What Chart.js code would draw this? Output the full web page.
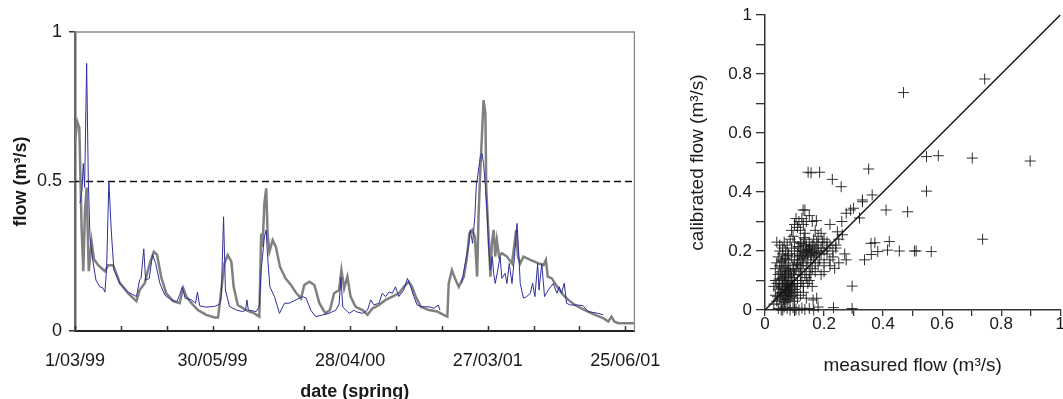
<!DOCTYPE html>
<html>
<head>
<meta charset="utf-8">
<script src="https://cdn.jsdelivr.net/npm/chart.js@4.4.1/dist/chart.umd.min.js"></script>
<style>
  html, body { margin: 0; padding: 0; background: #fff; }
  body { width: 1063px; height: 399px; position: relative; overflow: hidden; }
  #flowChart { position: absolute; left: 0; top: 0; }
  #scatterChart { position: absolute; left: 680px; top: 0; }
</style>
</head>
<body>
<canvas id="flowChart" width="680" height="399"></canvas>
<canvas id="scatterChart" width="383" height="399"></canvas>
<script>
// time axis: 10 units per tick, labelled every third tick
const dateTicks = ['1/03/99', '', '', '30/05/99', '', '', '28/04/00', '', '', '27/03/01', '', '', '25/06/01'];

// simulated flow (grey)
const simTime = [0, 0.5, 0.94, 1.45, 1.81, 2.17, 2.54, 3.0, 3.62, 4.13, 5.07, 6.52, 7.25, 8.33, 9.78, 11.6, 13.4, 14.1, 15.2, 16.3,
  17.2, 17.9, 18.8, 19.9, 21.4, 22.8, 23.6, 24.3, 25.4, 26.8, 28.6, 30.4, 31.2, 31.9, 32.6, 33.3, 34.1, 34.6, 35.5, 37.3,
  39.1, 40.2, 40.6, 40.9, 41.3, 41.7, 42.0, 42.4, 43.1, 43.8, 44.7, 45.9, 47.1, 48.3, 49.3, 50.0, 51.1, 52.2, 53.3, 54.6,
  55.6, 56.5, 57.6, 58.1, 58.7, 59.4, 60.1, 60.9, 61.2, 62.7, 63.8, 64.85, 66.3, 67.75, 69.2, 70.65, 71.7, 72.8, 73.5, 74.3,
  75.4, 77.2, 79.0, 80.4, 81.2, 81.5, 82.2, 83.0, 83.7, 84.8, 85.5, 86.0, 86.6, 87.2, 87.7, 88.0, 88.4, 88.8, 89.1, 89.5,
  89.7, 90.2, 90.6, 90.9, 91.3, 91.65, 92.0, 92.5, 93.1, 94.2, 95.3, 95.85, 96.2, 96.6, 97.1, 97.8, 99.3, 101.1, 102.2, 102.7,
  103.1, 104.0, 104.7, 105.4, 106.5, 107.6, 109.0, 111.2, 113.4, 115.2, 116.3, 117.0, 117.6, 118.5, 122];
const simFlow = [0.63, 0.70, 0.68, 0.34, 0.20, 0.40, 0.48, 0.20, 0.30, 0.24, 0.22, 0.20, 0.22, 0.22, 0.16, 0.126, 0.10, 0.137, 0.16, 0.226,
  0.265, 0.255, 0.18, 0.126, 0.10, 0.093, 0.143, 0.115, 0.093, 0.07, 0.054, 0.045, 0.045, 0.137, 0.226, 0.254, 0.232, 0.148, 0.087, 0.07,
  0.059, 0.048, 0.326, 0.282, 0.427, 0.477, 0.326, 0.265, 0.304, 0.282, 0.215, 0.176, 0.154, 0.126, 0.109, 0.154, 0.165, 0.154, 0.093, 0.059,
  0.070, 0.126, 0.137, 0.204, 0.143, 0.182, 0.115, 0.09, 0.081, 0.07, 0.054, 0.075, 0.087, 0.104, 0.115, 0.126, 0.148, 0.165, 0.148, 0.115,
  0.081, 0.07, 0.065, 0.054, 0.048, 0.159, 0.204, 0.171, 0.148, 0.182, 0.249, 0.326, 0.338, 0.315, 0.182, 0.382, 0.538, 0.672, 0.772, 0.728,
  0.472, 0.315, 0.182, 0.293, 0.338, 0.249, 0.304, 0.249, 0.26, 0.249, 0.226, 0.293, 0.338, 0.249, 0.226, 0.249, 0.238, 0.226, 0.22, 0.238,
  0.182, 0.176, 0.159, 0.143, 0.12, 0.104, 0.087, 0.07, 0.054, 0.043, 0.032, 0.048, 0.032, 0.026, 0.026];

// measured flow (blue), null = missing record
const obsTime = [1.09, 1.52, 1.81, 2.1, 2.54, 2.9, 3.26, 3.84, 4.57, 5.43, 6.16, 6.52, 6.88, 7.39, 7.9, 8.48, 9.78, 11.6, 13.4, 14.1,
  14.4, 15.0, 15.4, 16.2, 16.9, 17.6, 18.5, 19.6, 21.0, 22.2, 22.8, 23.4, 24.0, 25.4, 26.3, 26.7, 27.2, 28.6, 30.4, 31.6,
  31.9, 32.4, 32.8, 33.7, 35.2, 36.6, 37.2, 37.5, 37.8, 39.5, 40.2, 40.6, 40.9, 41.3, 41.7, 42.0, 42.5, 43.5, 44.6, 45.7,
  46.7, 48.2, 49.6, 50.4, 51.4, 52.5, 54.0, 55.4, 56.9, 57.6, 58.0, 58.4, 59.8, 60.9, 61.2, 62.7, 63.8, 64.5, 65.2, 66.3,
  67.0, 67.75, 68.5, 69.2, 69.9, 70.6, 71.7, 72.5, 73.2, 73.9, 74.6, 75.7, 77.2, 78.3, 79.2, 79.6, 80.0, 84.3, 85.1, 85.9,
  86.2, 86.7, 87.2, 87.5, 88.0, 88.4, 88.75, 89.1, 89.5, 89.85, 90.2, 90.6, 91.0, 91.3, 91.65, 92.2, 92.7, 93.1, 93.8, 94.2,
  94.7, 95.3, 95.85, 96.4, 96.7, 97.1, 97.8, 98.5, 99.3, 99.8, 100.3, 100.9, 101.2, 101.8, 102.4, 103.2, 104.3, 105.1, 105.6, 106.1,
  106.7, 107.2, 108.0, 109.4, 110.8, 111.9, 114.1, 115.2];
const obsFlow = [0.427, 0.47, 0.56, 0.48, 0.895, 0.505, 0.315, 0.24, 0.17, 0.148, 0.143, 0.13, 0.204, 0.50, 0.338, 0.204, 0.16, 0.13, 0.115, 0.171,
  0.176, 0.275, 0.17, 0.176, 0.255, 0.226, 0.16, 0.12, 0.104, 0.098, 0.12, 0.148, 0.11, 0.104, 0.093, 0.13, 0.084, 0.080, 0.082, 0.09,
  0.115, 0.382, 0.137, 0.082, 0.070, 0.065, 0.07, 0.104, 0.07, 0.065, 0.082, 0.204, 0.249, 0.315, 0.338, 0.249, 0.148, 0.115, 0.059, 0.093,
  0.093, 0.104, 0.115, 0.11, 0.07, 0.048, 0.054, 0.059, 0.07, 0.09, 0.18, 0.08, 0.059, 0.07, 0.065, 0.059, 0.07, 0.104, 0.087, 0.093,
  0.126, 0.115, 0.131, 0.126, 0.148, 0.115, 0.137, 0.176, 0.148, 0.115, 0.087, 0.081, 0.081, 0.076, 0.087, 0.07, null, 0.16, 0.226, 0.293,
  0.338, 0.293, 0.382, 0.483, 0.538, 0.583, 0.594, 0.56, 0.483, 0.405, 0.282, 0.204, 0.249, 0.193, 0.159, 0.204, 0.249, 0.176, 0.193, 0.159,
  0.226, 0.159, 0.249, 0.36, 0.282, 0.159, 0.11, 0.115, 0.126, 0.16, 0.115, 0.226, 0.137, 0.226, 0.115, 0.137, 0.159, 0.126, 0.148, 0.126,
  0.16, 0.093, 0.087, 0.087, 0.085, 0.065, 0.059, 0.054];

const thresholdFlow = 0.5;

// scatter: measured vs calibrated flow
const measuredFlow = [0.469, 0.744, 0.146, 0.156, 0.185, 0.228, 0.258, 0.351, 0.363, 0.33, 0.547, 0.587, 0.702, 0.898, 0.547, 0.41, 0.483, 0.737, 0.359, 0.372,
  0.421, 0.382, 0.415, 0.455, 0.506, 0.512, 0.563, 0.337, 0.36, 0.295, 0.232, 0.295, 0.275, 0.236, 0.163, 0.135, 0.174, 0.22, 0.275, 0.29,
  0.32, 0.33, 0.3, 0.26, 0.245, 0.262, 0.24, 0.25, 0.27, 0.23, 0.21, 0.129,
  0.03, 0.035, 0.04, 0.045, 0.05, 0.05, 0.055, 0.055, 0.06, 0.06, 0.06, 0.065, 0.065, 0.065, 0.07, 0.07, 0.07, 0.07, 0.075, 0.075,
  0.075, 0.08, 0.08, 0.08, 0.08, 0.085, 0.085, 0.085, 0.09, 0.09, 0.09, 0.095, 0.095, 0.1, 0.1, 0.1, 0.105, 0.11, 0.11, 0.115,
  0.12, 0.04, 0.045, 0.05, 0.055, 0.035, 0.03,
  0.04, 0.045, 0.05, 0.05, 0.055, 0.06, 0.06, 0.065, 0.065, 0.07, 0.07, 0.075, 0.075, 0.08, 0.08, 0.085, 0.085, 0.09, 0.09, 0.095,
  0.095, 0.1, 0.1, 0.1, 0.035, 0.04,
  0.105, 0.11, 0.11, 0.115, 0.115, 0.12, 0.12, 0.12, 0.12, 0.125, 0.125, 0.13, 0.13, 0.13, 0.135, 0.135, 0.135, 0.14, 0.14, 0.14,
  0.145, 0.145, 0.15, 0.15, 0.15, 0.155, 0.155, 0.16, 0.16, 0.16, 0.165, 0.165, 0.17, 0.17, 0.175, 0.175, 0.18, 0.18, 0.185, 0.19,
  0.19, 0.195, 0.2, 0.2, 0.21, 0.22, 0.125, 0.13, 0.14, 0.145, 0.15, 0.155, 0.16, 0.17, 0.18, 0.13, 0.12, 0.11, 0.14, 0.1, 0.175,
  0.045, 0.055, 0.065, 0.075, 0.085, 0.095, 0.105, 0.115, 0.125, 0.135, 0.15, 0.165, 0.18, 0.06, 0.1,
  0.09, 0.1, 0.105, 0.11, 0.115, 0.12, 0.125, 0.13, 0.135, 0.14, 0.15, 0.16, 0.17, 0.18, 0.19, 0.2,
  0.21, 0.22, 0.23, 0.24, 0.25, 0.2, 0.22, 0.19,
  0.042, 0.048, 0.052, 0.058, 0.062, 0.068, 0.072, 0.078, 0.082, 0.088, 0.058, 0.066, 0.074, 0.083, 0.092, 0.052, 0.061, 0.071, 0.079, 0.087,
  0.047, 0.057, 0.067, 0.077, 0.097, 0.068, 0.078, 0.088, 0.108, 0.118, 0.128, 0.138, 0.148, 0.158, 0.168, 0.112, 0.122, 0.132, 0.142, 0.152];
const calibratedFlow = [0.737, 0.783, 0.467, 0.465, 0.467, 0.443, 0.418, 0.478, 0.39, 0.373, 0.52, 0.523, 0.515, 0.505, 0.403, 0.339, 0.333, 0.24, 0.226, 0.228,
  0.232, 0.198, 0.203, 0.2, 0.2, 0.2, 0.198, 0.17, 0.188, 0.081, 0.008, 0.005, 0.17, 0.141, 0.034, 0.339, 0.303, 0.29, 0.328, 0.339,
  0.312, 0.367, 0.345, 0.3, 0.265, 0.255, 0.22, 0.16, 0.19, 0.2, 0.23, 0.339,
  0.02, 0.05, 0.03, 0.07, 0.04, 0.09, 0.06, 0.02, 0.05, 0.08, 0.11, 0.03, 0.07, 0.1, 0.05, 0.06, 0.09, 0.12, 0.04, 0.07,
  0.08, 0.05, 0.06, 0.1, 0.13, 0.03, 0.07, 0.09, 0.06, 0.08, 0.11, 0.05, 0.1, 0.07, 0.09, 0.12, 0.06, 0.08, 0.1, 0.13,
  0.09, 0.09, 0.12, 0.15, 0.13, 0.1, 0.08,
  0.16, 0.18, 0.2, 0.22, 0.17, 0.19, 0.21, 0.15, 0.23, 0.17, 0.2, 0.14, 0.22, 0.16, 0.19, 0.24, 0.14, 0.18, 0.21, 0.15,
  0.25, 0.17, 0.2, 0.23, 0.14, 0.23,
  0.14, 0.16, 0.19, 0.21, 0.17, 0.12, 0.15, 0.2, 0.23, 0.18, 0.14, 0.16, 0.2, 0.22, 0.12, 0.18, 0.24, 0.15, 0.2, 0.22,
  0.17, 0.19, 0.13, 0.21, 0.23, 0.16, 0.19, 0.2, 0.22, 0.14, 0.18, 0.24, 0.21, 0.16, 0.19, 0.23, 0.2, 0.22, 0.17, 0.21,
  0.19, 0.23, 0.2, 0.16, 0.19, 0.17, 0.1, 0.08, 0.11, 0.09, 0.1, 0.12, 0.08, 0.13, 0.15, 0.06, 0.05, 0.04, 0.04, 0.03, 0.04,
  0.005, 0.0, 0.01, 0.005, 0.0, 0.008, 0.003, 0.0, 0.006, 0.002, 0.005, 0.0, 0.01, 0.0, 0.0,
  0.27, 0.29, 0.31, 0.28, 0.3, 0.27, 0.31, 0.29, 0.26, 0.3, 0.32, 0.3, 0.27, 0.25, 0.26, 0.24,
  0.21, 0.22, 0.18, 0.21, 0.24, 0.13, 0.15, 0.12,
  0.045, 0.075, 0.055, 0.085, 0.035, 0.065, 0.045, 0.085, 0.055, 0.075, 0.105, 0.115, 0.095, 0.065, 0.085, 0.125, 0.145, 0.135, 0.115, 0.125,
  0.105, 0.165, 0.175, 0.185, 0.135, 0.025, 0.035, 0.045, 0.155, 0.185, 0.175, 0.195, 0.205, 0.185, 0.195, 0.215, 0.225, 0.245, 0.205, 0.215];

const oneToOne = [0, 1];

Chart.defaults.font.family = 'Arial, "Liberation Sans", sans-serif';
Chart.defaults.color = '#1a1a1a';

function toPoints(xs, ys) {
    return xs.map((x, i) => ({ x: x, y: ys[i] }));
}

function fmtTick(v) {
    const r = Math.round(v * 10) / 10;
    return String(r);
}

// box border and inward x ticks for the flow plot
const flowFrame = {
    id: 'flowFrame',
    afterDraw(chart) {
        const { ctx, chartArea: a, scales: { x } } = chart;
        ctx.save();
        ctx.strokeStyle = '#8a8a8a';
        ctx.lineWidth = 1.3;
        ctx.beginPath();
        ctx.moveTo(a.left, a.top);
        ctx.lineTo(a.right, a.top);
        ctx.lineTo(a.right, a.bottom);
        ctx.stroke();
        ctx.strokeStyle = '#333';
        ctx.lineWidth = 1.5;
        x.ticks.forEach(t => {
            const px = Math.round(x.getPixelForValue(t.value)) + 0.5;
            ctx.beginPath();
            ctx.moveTo(px, a.bottom);
            ctx.lineTo(px, a.bottom - 5);
            ctx.stroke();
        });
        ctx.restore();
    }
};

new Chart(document.getElementById('flowChart'), {
    type: 'line',
    data: {
        datasets: [{
            label: 'measured',
            data: toPoints(obsTime, obsFlow),
            borderColor: '#2f2f9c',
            borderWidth: 1,
            pointRadius: 0,
            tension: 0
        }, {
            label: 'simulated',
            data: toPoints(simTime, simFlow),
            borderColor: '#808080',
            borderWidth: 2.5,
            pointRadius: 0,
            tension: 0
        }, {
            label: 'threshold',
            data: [{ x: 0, y: thresholdFlow }, { x: 122, y: thresholdFlow }],
            borderColor: '#111',
            borderWidth: 1.4,
            borderDash: [7, 4],
            pointRadius: 0
        }]
    },
    options: {
        responsive: false,
        animation: false,
        events: [],
        layout: { autoPadding: false, padding: { top: 32, right: 44, left: 0, bottom: 0 } },
        plugins: { legend: { display: false }, tooltip: { enabled: false } },
        scales: {
            x: {
                type: 'linear',
                min: 0,
                max: 122,
                afterFit: s => { s.height = 68; },
                grid: { display: false, drawTicks: false },
                border: { display: true, color: '#222', width: 2 },
                ticks: {
                    stepSize: 10,
                    includeBounds: false,
                    autoSkip: false,
                    maxRotation: 0,
                    padding: 19,
                    font: { size: 18 },
                    callback: v => dateTicks[Math.round(v / 10)] || ''
                },
                title: {
                    display: true,
                    text: 'date (spring)',
                    font: { size: 18, weight: 'bold' },
                    padding: { top: 0, bottom: -4 }
                }
            },
            y: {
                min: 0,
                max: 1,
                afterFit: s => { s.width = 75; },
                grid: { drawOnChartArea: false, drawTicks: true, tickLength: 6, color: '#333', lineWidth: 1.5 },
                border: { display: true, color: '#666', width: 2.5 },
                ticks: { stepSize: 0.5, padding: 7, font: { size: 18 }, callback: v => fmtTick(v) },
                title: {
                    display: true,
                    text: 'flow (m³/s)',
                    font: { size: 18, weight: 'bold' },
                    padding: { top: 10, bottom: 0 }
                }
            }
        }
    },
    plugins: [flowFrame]
});

new Chart(document.getElementById('scatterChart'), {
    type: 'scatter',
    data: {
        datasets: [{
            label: '1:1',
            type: 'line',
            data: toPoints(oneToOne, oneToOne),
            borderColor: '#111',
            borderWidth: 1.4,
            pointRadius: 0
        }, {
            label: 'calibrated vs measured',
            data: toPoints(measuredFlow, calibratedFlow),
            pointStyle: 'cross',
            pointRadius: 5.5,
            borderColor: 'rgba(25,25,25,0.9)',
            backgroundColor: 'rgba(25,25,25,0.9)',
            pointBorderWidth: 1
        }]
    },
    options: {
        responsive: false,
        animation: false,
        events: [],
        clip: false,
        layout: { autoPadding: false, padding: { top: 15, right: 1, left: 0, bottom: 0 } },
        plugins: { legend: { display: false }, tooltip: { enabled: false } },
        scales: {
            x: {
                type: 'linear',
                min: 0,
                max: 1,
                afterFit: s => { s.height = 89; },
                grid: { drawOnChartArea: false, drawTicks: true, tickLength: 6, color: '#333', lineWidth: 1.3 },
                border: { display: true, color: '#333', width: 1.5 },
                ticks: {
                    stepSize: 0.1,
                    autoSkip: false,
                    maxRotation: 0,
                    padding: -2,
                    font: { size: 17 },
                    callback: v => (Math.round(v * 10) % 2 === 0 ? fmtTick(v) : '')
                },
                title: {
                    display: true,
                    text: 'measured flow (m³/s)',
                    font: { size: 19 },
                    padding: { top: 0, bottom: 22 }
                }
            },
            y: {
                min: 0,
                max: 1,
                afterFit: s => { s.width = 85; },
                grid: { drawOnChartArea: false, drawTicks: true, tickLength: 9, color: '#333', lineWidth: 1.3 },
                border: { display: true, color: '#333', width: 1.5 },
                ticks: {
                    stepSize: 0.1,
                    autoSkip: false,
                    padding: 4,
                    font: { size: 17 },
                    callback: v => (Math.round(v * 10) % 2 === 0 ? fmtTick(v) : '')
                },
                title: {
                    display: true,
                    text: 'calibrated flow (m³/s)',
                    font: { size: 19 },
                    padding: { top: 6, bottom: 0 }
                }
            }
        }
    }
});
</script>
</body>
</html>
